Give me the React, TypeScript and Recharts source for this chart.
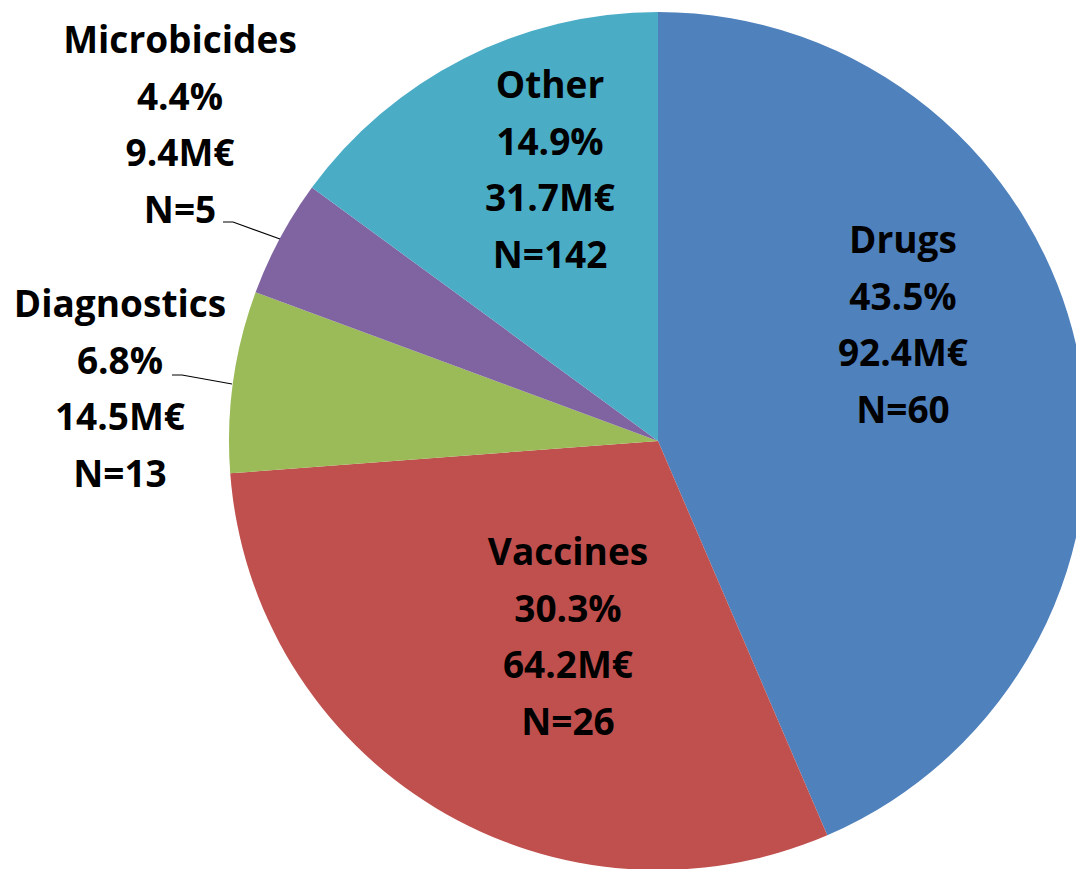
import { PieChart, Pie, Cell } from 'recharts';

const categories = ['Drugs', 'Vaccines', 'Diagnostics', 'Microbicides', 'Other'];
const fundingMEur = [92.4, 64.2, 14.5, 9.4, 31.7];
const projectCounts = [60, 26, 13, 5, 142];
const colors = ['#4F81BD', '#C0504D', '#9BBB59', '#8064A2', '#4BACC6'];

const total = fundingMEur.reduce((a, b) => a + b, 0);

const data = categories.map((name, i) => ({
  name,
  value: fundingMEur[i],
  count: projectCounts[i],
}));

// label block anchor (centre x, first baseline) relative to the pie centre
const labelOffsets = [
  { dx: 245, dy: -188 },
  { dx: -90, dy: 124 },
  { dx: -538, dy: -124 },
  { dx: -478, dy: -388 },
  { dx: -108, dy: -343 },
];

// leader lines for the outside labels, relative to the pie centre
const leaders: Record<number, number[][]> = {
  2: [[-486, -66], [-476, -66], [-426, -57]],
  3: [[-435, -219], [-425, -219], [-378, -202]],
};

const LINE_H = 56.5;

function renderLabel(props: any) {
  const { cx, cy, index } = props;
  const off = labelOffsets[index];
  const x = cx + off.dx;
  const y = cy + off.dy;
  const lines = [
    categories[index],
    `${((fundingMEur[index] / total) * 100).toFixed(1)}%`,
    `${fundingMEur[index]}M€`,
    `N=${projectCounts[index]}`,
  ];
  const pts = leaders[index];
  return (
    <g>
      {pts && (
        <polyline
          points={pts.map((p) => `${cx + p[0]},${cy + p[1]}`).join(' ')}
          fill="none"
          stroke="#000"
          strokeWidth={1.2}
        />
      )}
      <text
        x={x}
        y={y}
        textAnchor="middle"
        fill="#000"
        style={{ fontFamily: '"Open Sans", sans-serif', fontWeight: 700, fontSize: 37 }}
      >
        {lines.map((l, i) => (
          <tspan key={i} x={x} y={y + i * LINE_H}>
            {l}
          </tspan>
        ))}
      </text>
    </g>
  );
}

export default function App() {
  return (
    <div style={{ position: 'absolute', left: 0, top: 0, width: 1076, height: 869, background: '#fff' }}>
      <PieChart width={1076} height={869} margin={{ top: 0, right: 0, bottom: 0, left: 0 }}>
        <Pie
          data={data}
          dataKey="value"
          nameKey="name"
          cx={658}
          cy={441}
          outerRadius={429}
          startAngle={90}
          endAngle={-270}
          stroke="none"
          label={renderLabel}
          labelLine={false}
          isAnimationActive={false}
        >
          {data.map((d, i) => (
            <Cell key={d.name} fill={colors[i]} />
          ))}
        </Pie>
      </PieChart>
    </div>
  );
}
